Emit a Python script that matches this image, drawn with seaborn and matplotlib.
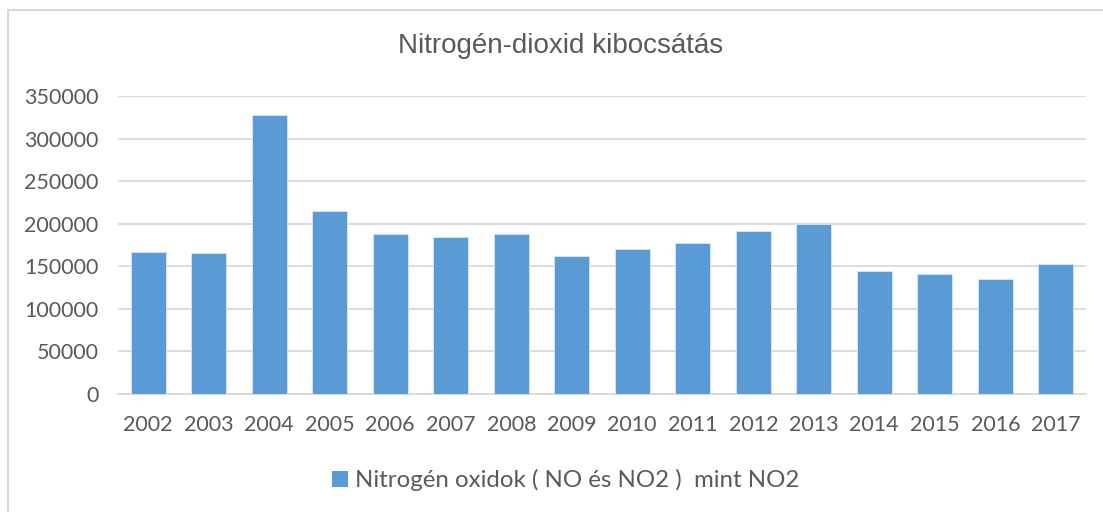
import matplotlib
matplotlib.use("Agg")
import matplotlib.pyplot as plt
from matplotlib.patches import Rectangle, Patch
import seaborn as sns
import pandas as pd

years = ["2002", "2003", "2004", "2005", "2006", "2007", "2008", "2009",
         "2010", "2011", "2012", "2013", "2014", "2015", "2016", "2017"]
emissions = [166200, 165400, 328100, 215500, 188500, 184600, 188100, 161500,
             170100, 176800, 191200, 199500, 143900, 141200, 134900, 152500]
series_name = "Nitrogén oxidok ( NO és NO2 )  mint NO2"
chart_title = "Nitrogén-dioxid kibocsátás"
y_ticks = [0, 50000, 100000, 150000, 200000, 250000, 300000, 350000]

bar_color = "#5B9BD5"
text_color = "#595959"
grid_color = "#D9D9D9"

sns.set_theme(style="white")
plt.rcParams["font.family"] = ["Lato", "DejaVu Sans"]

df = pd.DataFrame({"year": years, "value": emissions})

W, H = 1103, 512
fig = plt.figure(figsize=(W / 100, H / 100), dpi=100)
ax = fig.add_axes([118 / W, (H - 394) / H, (1086 - 118) / W, (394 - 96) / H])

sns.barplot(data=df, x="year", y="value", color=bar_color, width=0.58,
            saturation=1, edgecolor="#DCE8F5", linewidth=0.6, ax=ax, zorder=3)

ax.set_ylim(0, 350000)
ax.set_yticks(y_ticks)
ax.set_yticklabels([str(v) for v in y_ticks])
ax.set_xlim(-0.5, len(years) - 0.5)
ax.set_xlabel("")
ax.set_ylabel("")
ax.grid(axis="y", color=grid_color, linewidth=1.3, zorder=0)
ax.set_axisbelow(True)
for side in ["top", "right", "left"]:
    ax.spines[side].set_visible(False)
ax.spines["bottom"].set_color(grid_color)
ax.spines["bottom"].set_linewidth(1.3)
ax.tick_params(axis="both", length=0, labelsize=15.5, labelcolor=text_color)
ax.tick_params(axis="y", pad=14)
ax.tick_params(axis="x", pad=15)

fig.text(561 / W, (H - 46) / H, chart_title, ha="center", va="center",
         fontsize=20, color=text_color, family=["Liberation Sans", "DejaVu Sans"])

handle = Patch(facecolor=bar_color, edgecolor="none")
fig.legend([handle], [series_name], loc="center", bbox_to_anchor=(566 / W, (H - 480) / H),
           frameon=False, fontsize=17.3, labelcolor=text_color,
           handlelength=0.65, handleheight=0.65, handletextpad=0.3)

# chart frame
fig.patches.append(Rectangle((8 / W, -0.2), 1.2, 1.2 - 10 / H, transform=fig.transFigure,
                             fill=False, edgecolor=grid_color, linewidth=1.5))

fig.savefig("out.png", dpi=100)
